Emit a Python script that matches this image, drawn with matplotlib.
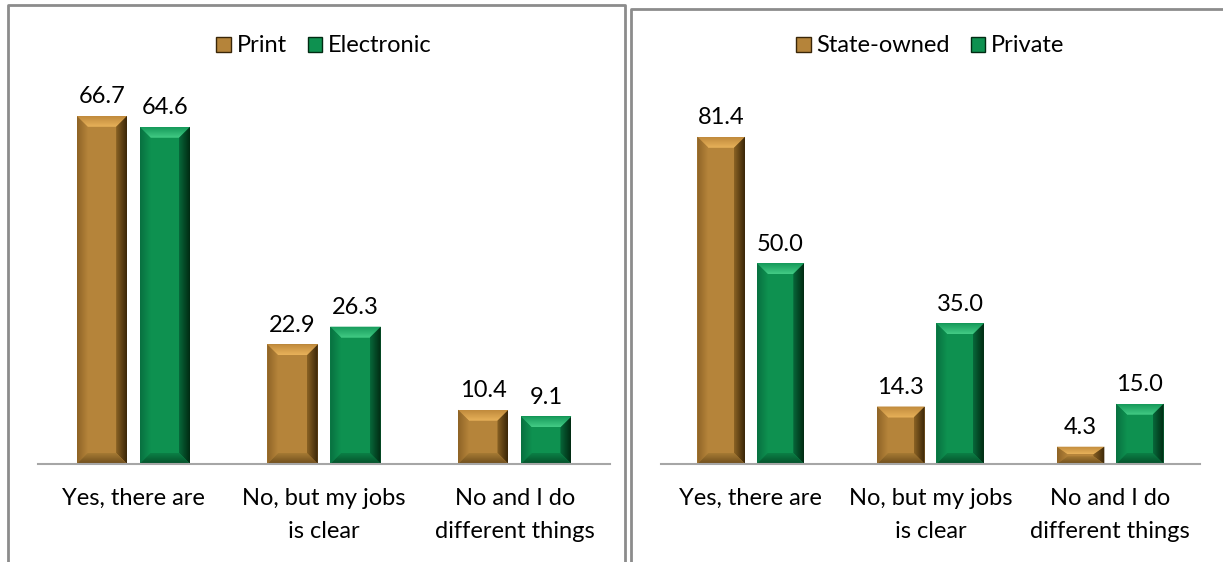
import matplotlib
matplotlib.use("Agg")
import matplotlib.pyplot as plt
from matplotlib.patches import Polygon, Patch
from matplotlib.lines import Line2D
from matplotlib.colors import to_rgb
import numpy as np

plt.rcParams['font.family'] = ['Lato', 'DejaVu Sans']

categories = ["Yes, there are", "No, but my jobs\nis clear", "No and I do\ndifferent things"]
print_vals = [66.7, 22.9, 10.4]
electronic_vals = [64.6, 26.3, 9.1]
state_vals = [81.4, 14.3, 4.3]
private_vals = [50.0, 35.0, 15.0]

# (outer colour, inner colour) per bevel face
GOLD = dict(face="#B5843A", top=("#C08A3C", "#E8B25A"), left=("#8E6326", "#B5843A"),
            right=("#3A2608", "#8A6224"), bottom=("#6E4E1C", "#A67A34"))
GREEN = dict(face="#0E9150", top=("#15995A", "#43CC85"), left=("#087040", "#0E9150"),
             right=("#012A12", "#07683A"), bottom=("#05502A", "#0B8046"))
FS = 17

W, H = 1223, 562
fig = plt.figure(figsize=(W / 100, H / 100), dpi=100)


def px_axes(x0, x1, ybase, ytop):
    return fig.add_axes([x0 / W, (H - ybase) / H, (x1 - x0) / W, (ybase - ytop) / H])


def grad_face(ax, pts, c_out, c_in, axis, outer_is_high):
    poly = Polygon(pts, closed=True, facecolor="none", edgecolor="none")
    ax.add_patch(poly)
    xs = [p[0] for p in pts]
    ys = [p[1] for p in pts]
    t = np.linspace(0, 1, 64)
    if outer_is_high:
        t = t[::-1]
    a, b = np.array(to_rgb(c_out)), np.array(to_rgb(c_in))
    cols = a[None, :] * (1 - t[:, None]) + b[None, :] * t[:, None]
    if axis == "x":
        img = cols[None, :, :]
    else:
        img = cols[::-1][:, None, :]
    im = ax.imshow(img, extent=[min(xs), max(xs), min(ys), max(ys)], aspect="auto",
                   interpolation="bilinear", origin="upper", zorder=2)
    im.set_clip_path(poly)


def bevel_bar(ax, x, w, h, col, bpx=11):
    xr = ax.get_xlim()[1] - ax.get_xlim()[0]
    yr = ax.get_ylim()[1] - ax.get_ylim()[0]
    bb = ax.get_window_extent()
    bx = bpx * xr / bb.width
    by = min(bpx * yr / bb.height, h * 0.45)
    x0, x1, y0, y1 = x - w / 2, x + w / 2, 0, h
    ax.add_patch(Polygon([(x0, y0), (x1, y0), (x1, y1), (x0, y1)], closed=True,
                         facecolor=col["face"], edgecolor="none", zorder=1))
    grad_face(ax, [(x0, y1), (x1, y1), (x1 - bx, y1 - by), (x0 + bx, y1 - by)],
              *col["top"], "y", True)
    grad_face(ax, [(x0, y0), (x0, y1), (x0 + bx, y1 - by), (x0 + bx, y0 + by)],
              *col["left"], "x", False)
    grad_face(ax, [(x1, y0), (x1, y1), (x1 - bx, y1 - by), (x1 - bx, y0 + by)],
              *col["right"], "x", True)
    grad_face(ax, [(x0, y0), (x1, y0), (x1 - bx, y0 + by), (x0 + bx, y0 + by)],
              *col["bottom"], "y", False)


def panel(x0, x1, ytop_val, vals_a, vals_b, names):
    ax = px_axes(x0, x1, 464, 62)
    ax.set_xlim(-0.5, 2.5)
    ax.set_ylim(0, ytop_val)
    x = np.arange(len(categories))
    w = 0.265
    off = 0.165
    for xi, va, vb in zip(x, vals_a, vals_b):
        bevel_bar(ax, xi - off, w, va, GOLD)
        bevel_bar(ax, xi + off, w, vb, GREEN)
        ax.annotate(f"{va:.1f}", (xi - off, va), xytext=(0, 6), textcoords="offset points",
                    ha="center", va="bottom", fontsize=FS)
        ax.annotate(f"{vb:.1f}", (xi + off, vb), xytext=(0, 6), textcoords="offset points",
                    ha="center", va="bottom", fontsize=FS)
    ax.set_xlim(-0.5, 2.5)
    ax.set_ylim(0, ytop_val)
    ax.set_xticks(x)
    ax.set_xticklabels(categories, fontsize=FS, linespacing=1.75)
    ax.tick_params(axis="x", length=0, pad=17)
    ax.set_yticks([])
    for s in ["top", "left", "right"]:
        ax.spines[s].set_visible(False)
    ax.spines["bottom"].set_color("#A6A6A6")
    ax.spines["bottom"].set_linewidth(1.5)
    ax.spines["bottom"].set_zorder(5)
    ax.set_facecolor("none")
    handles = [Patch(facecolor=GOLD["face"], edgecolor=GOLD["right"][0]),
               Patch(facecolor=GREEN["face"], edgecolor=GREEN["right"][0])]
    ax.legend(handles, names, loc="center", bbox_to_anchor=(0.5, (464 - 46) / (464 - 62)),
              ncol=2, frameon=False, fontsize=FS, handlelength=0.6, handleheight=0.6,
              handletextpad=0.25, columnspacing=0.9)
    return ax


panel(38, 610, 77.0, print_vals, electronic_vals, ["Print", "Electronic"])
panel(661, 1200, 100.0, state_vals, private_vals, ["State-owned", "Private"])

# panel frames
frame = "#8C8C8C"
def fl(xs, ys):
    fig.add_artist(Line2D([v / W for v in xs], [1 - v / H for v in ys], color=frame, lw=2))

fl([8, 8, 625, 625], [H, 5, 5, H])
fl([631, 631, W], [H, 9, 9])

fig.savefig("out.png", dpi=100)
